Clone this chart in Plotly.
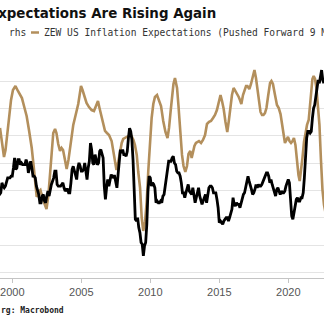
import plotly.graph_objects as go

W, H = 324, 329
MT, MB = 54, 51
PH = H - MT - MB

TAN = "#b38f5c"

# US CPI YoY (%), monthly from Jan 1999
cpi_start_year = 1999
cpi_yoy = [
    1.7, 1.6, 1.7, 2.3, 2.1, 2.0, 2.1, 2.3, 2.6, 2.6, 2.6, 2.7,   # 1999
    2.7, 3.2, 3.8, 3.1, 3.2, 3.7, 3.7, 3.4, 3.5, 3.4, 3.4, 3.4,   # 2000
    3.7, 3.5, 2.9, 3.3, 3.6, 3.2, 2.7, 2.7, 2.6, 2.1, 1.9, 1.6,   # 2001
    1.1, 1.1, 1.5, 1.6, 1.2, 1.1, 1.5, 1.8, 1.5, 2.0, 2.2, 2.4,   # 2002
    2.6, 3.0, 3.0, 2.2, 2.1, 2.1, 2.1, 2.2, 2.3, 2.0, 1.8, 1.9,   # 2003
    1.9, 1.7, 1.7, 2.3, 3.1, 3.3, 3.0, 2.7, 2.5, 3.2, 3.5, 3.3,   # 2004
    3.0, 3.0, 3.1, 3.5, 2.8, 2.5, 3.2, 3.6, 4.7, 4.3, 3.5, 3.4,   # 2005
    4.0, 3.6, 3.4, 3.5, 4.2, 4.3, 4.1, 3.8, 2.1, 1.3, 2.0, 2.5,   # 2006
    2.1, 2.4, 2.8, 2.6, 2.7, 2.7, 2.4, 2.0, 2.8, 3.5, 4.3, 4.1,   # 2007
    4.3, 4.0, 4.0, 3.9, 4.2, 5.0, 5.6, 5.4, 4.9, 3.7, 1.1, 0.1,   # 2008
    0.0, 0.2, -0.4, -0.7, -1.3, -1.4, -2.1, -1.5, -1.3, -0.2, 1.8, 2.7,  # 2009
    2.6, 2.1, 2.3, 2.2, 2.0, 1.1, 1.2, 1.1, 1.1, 1.2, 1.1, 1.5,   # 2010
    1.6, 2.1, 2.7, 3.2, 3.6, 3.6, 3.6, 3.8, 3.9, 3.5, 3.4, 3.0,   # 2011
    2.9, 2.9, 2.7, 2.3, 1.7, 1.7, 1.4, 1.7, 2.0, 2.2, 1.8, 1.7,   # 2012
    1.6, 2.0, 1.5, 1.1, 1.4, 1.8, 2.0, 1.5, 1.2, 1.0, 1.2, 1.5,   # 2013
    1.6, 1.1, 1.5, 2.0, 2.1, 2.1, 2.0, 1.7, 1.7, 1.7, 1.3, 0.8,   # 2014
    -0.1, 0.0, -0.1, -0.2, 0.0, 0.1, 0.2, 0.2, 0.0, 0.2, 0.5, 0.7,  # 2015
    1.4, 1.0, 0.9, 1.1, 1.0, 1.0, 0.8, 1.1, 1.5, 1.6, 1.7, 2.1,   # 2016
    2.5, 2.7, 2.4, 2.2, 1.9, 1.6, 1.7, 1.9, 2.2, 2.0, 2.2, 2.1,   # 2017
    2.1, 2.2, 2.4, 2.5, 2.8, 2.9, 2.9, 2.7, 2.3, 2.5, 2.2, 1.9,   # 2018
    1.6, 1.5, 1.9, 2.0, 1.8, 1.6, 1.8, 1.7, 1.7, 1.8, 2.1, 2.3,   # 2019
    2.5, 2.3, 1.5, 0.3, 0.1, 0.6, 1.0, 1.3, 1.4, 1.2, 1.2, 1.4,   # 2020
    1.4, 1.7, 2.6, 4.2, 5.0, 5.4, 5.4, 5.3, 5.4, 6.2, 6.8, 7.0,   # 2021
    7.5, 7.9, 8.5, 8.3, 8.6, 9.1, 8.5, 8.3,                       # 2022
]
cpi_years = [cpi_start_year + i / 12 for i in range(len(cpi_yoy))]

# ZEW US inflation expectations balance, shifted forward 9 months (decimal years)
zew_years = [
    1999.11, 1999.26, 1999.40, 1999.51, 1999.62, 1999.76, 1999.91, 2000.05, 2000.23, 2000.41,
    2000.56, 2000.70, 2000.85, 2001.04, 2001.21, 2001.41, 2001.54, 2001.65, 2001.77, 2001.90,
    2002.04, 2002.23, 2002.48, 2002.62, 2002.73, 2002.84, 2002.97, 2003.10, 2003.20, 2003.33,
    2003.46, 2003.57, 2003.68, 2003.82, 2003.94, 2004.07, 2004.18, 2004.29, 2004.42, 2004.54,
    2004.67, 2004.78, 2004.87, 2004.98, 2005.09, 2005.20, 2005.38, 2005.56, 2005.75, 2005.92,
    2006.03, 2006.21, 2006.32, 2006.48, 2006.61, 2006.72, 2006.86, 2007.01, 2007.20, 2007.33,
    2007.44, 2007.55, 2007.68, 2007.81, 2007.93, 2008.04, 2008.24, 2008.42, 2008.64, 2008.78,
    2008.89, 2009.02, 2009.13, 2009.26, 2009.38, 2009.49, 2009.62, 2009.74, 2009.86, 2009.98,
    2010.10, 2010.22, 2010.34, 2010.49, 2010.63, 2010.78, 2010.94, 2011.10, 2011.25, 2011.36,
    2011.47, 2011.57, 2011.68, 2011.79, 2011.94, 2012.04, 2012.18, 2012.30, 2012.41, 2012.54,
    2012.66, 2012.77, 2012.90, 2013.00, 2013.10, 2013.20, 2013.31, 2013.42, 2013.53, 2013.68,
    2013.82, 2013.97, 2014.11, 2014.26, 2014.40, 2014.55, 2014.69, 2014.83, 2014.94, 2015.09,
    2015.20, 2015.32, 2015.45, 2015.58, 2015.70, 2015.81, 2015.92, 2016.04, 2016.18, 2016.28,
    2016.41, 2016.50, 2016.60, 2016.72, 2016.83, 2016.94, 2017.04, 2017.18, 2017.30, 2017.41,
    2017.55, 2017.66, 2017.77, 2017.88, 2017.99, 2018.10, 2018.20, 2018.31, 2018.42, 2018.53,
    2018.68, 2018.78, 2018.89, 2019.04, 2019.18, 2019.31, 2019.44, 2019.55, 2019.67, 2019.76,
    2019.87, 2019.98, 2020.09, 2020.20, 2020.31, 2020.41, 2020.52, 2020.63, 2020.74, 2020.83,
    2020.92, 2021.03, 2021.14, 2021.25, 2021.36, 2021.48, 2021.57, 2021.67, 2021.75, 2021.84,
    2021.94, 2022.04, 2022.15, 2022.26, 2022.37, 2022.48, 2022.59, 2022.73,
]
zew_balance = [
    25.9, 14.9, 4.6, 9.7, 20.7, 35.4, 46.4, 53.7, 56.6, 53.0,
    50.8, 47.8, 42.0, 34.7, 24.4, 11.2, -1.2, -12.2, -24.7, -21.0,
    -19.6, -26.9, -33.5, -23.2, -8.6, 8.3, 22.2, 25.1, 22.2, 14.1,
    9.0, 11.2, 9.7, 2.4, -4.2, 2.4, 11.2, 20.7, 28.1, 33.2,
    38.3, 43.4, 49.3, 56.6, 53.7, 49.3, 44.2, 41.2, 39.0, 38.3,
    41.2, 45.6, 40.5, 33.9, 28.1, 23.7, 22.2, 20.7, 16.3, 8.3,
    -1.2, -4.9, 1.0, 9.0, 14.9, 17.8, 19.3, 20.0, 20.0, 17.1,
    13.4, 6.1, -6.4, -18.1, -40.1, -49.6, -43.0, -28.4, -4.9, 18.5,
    33.2, 43.4, 48.6, 50.0, 46.4, 42.0, 31.0, 22.9, 18.5, 25.9,
    37.6, 50.0, 58.1, 62.5, 55.2, 42.7, 22.9, 6.1, -2.0, -6.4,
    -2.0, 6.8, 9.0, 3.9, 8.3, 12.7, 14.9, 15.6, 16.3, 14.9,
    17.1, 20.7, 28.8, 30.3, 31.0, 33.2, 35.4, 39.0, 43.4, 50.0,
    45.6, 39.8, 30.3, 22.9, 31.7, 42.0, 50.0, 55.2, 53.0, 50.8,
    48.6, 46.4, 43.4, 50.0, 54.4, 56.6, 56.6, 54.4, 58.1, 63.2,
    68.4, 62.5, 55.2, 44.9, 37.6, 35.4, 35.4, 36.8, 40.5, 48.6,
    58.8, 60.3, 58.1, 50.0, 42.7, 40.5, 36.1, 28.8, 20.7, 14.9,
    17.1, 19.3, 16.3, 14.9, 16.3, 18.5, 13.4, 1.0, -8.6, -13.0,
    -6.4, 3.9, 15.6, 23.7, 28.1, 31.7, 42.7, 55.2, 61.8, 64.0,
    61.8, 55.2, 43.4, 28.1, 2.4, -19.6, -30.5, -37.9,
]

year_ticks = [2000, 2005, 2010, 2015, 2020]
x_range = [1999.11, 2022.59]
zew_range = [-84.1, 80.1]
cpi_range = [-3.44, 10.07]


def px_x(px):
    return px / W


def px_y(py):
    return (H - MB - py) / PH


fig = go.Figure()

fig.add_trace(go.Scatter(
    x=zew_years, y=zew_balance, mode="lines", yaxis="y",
    line=dict(color=TAN, width=2.6), showlegend=False, hoverinfo="skip",
))
fig.add_trace(go.Scatter(
    x=cpi_years, y=cpi_yoy, mode="lines", yaxis="y2",
    line=dict(color="#000000", width=2.8), showlegend=False, hoverinfo="skip",
))

fig.add_hline(y=0, line_dash="dash", line_color="#9c9c9c", line_width=1, layer="below")

annotations = [
    dict(text="<b>Expectations Are Rising Again</b>", xref="paper", yref="paper",
         x=px_x(218), y=px_y(14), xanchor="right", yanchor="middle", showarrow=False,
         font=dict(family="DejaVu Sans", size=13.4, color="#111111")),
    dict(text="rhs", xref="paper", yref="paper",
         x=px_x(6.5), y=px_y(32.5), xanchor="left", yanchor="middle", showarrow=False,
         font=dict(family="DejaVu Sans Mono", size=9.6, color="#333333")),
    dict(text="ZEW US Inflation Expectations (Pushed Forward 9 Months)",
         xref="paper", yref="paper",
         x=px_x(41.5), y=px_y(32.5), xanchor="left", yanchor="middle", showarrow=False,
         font=dict(family="DejaVu Sans Mono", size=9.6, color="#333333")),
    dict(text="<b>rg: Macrobond</b>", xref="paper", yref="paper",
         x=px_x(-1), y=px_y(310), xanchor="left", yanchor="middle", showarrow=False,
         font=dict(family="DejaVu Sans Mono", size=8, color="#222222")),
]

shapes = [
    dict(type="line", xref="paper", yref="paper",
         x0=px_x(31), x1=px_x(39), y0=px_y(32.5), y1=px_y(32.5),
         line=dict(color=TAN, width=2.5)),
]

fig.update_layout(
    width=W, height=H,
    margin=dict(l=0, r=0, t=MT, b=MB, pad=0),
    paper_bgcolor="white", plot_bgcolor="white",
    showlegend=False,
    annotations=annotations,
    shapes=shapes,
    xaxis=dict(
        range=x_range, tickvals=year_ticks, ticktext=[str(y) for y in year_ticks],
        showgrid=False, zeroline=False, showline=True, linecolor="#c4c4c4", linewidth=1,
        ticks="outside", ticklen=4, tickcolor="#c4c4c4",
        tickfont=dict(family="Liberation Sans", size=11, color="#555555"),
    ),
    yaxis=dict(
        range=zew_range, dtick=20, tick0=0, showgrid=True, gridcolor="#e4e4e4", gridwidth=1,
        zeroline=False, showticklabels=False, ticks="", showline=False,
    ),
    yaxis2=dict(
        range=cpi_range, overlaying="y", side="right", showgrid=False, zeroline=False,
        showticklabels=False, ticks="", showline=False,
    ),
)

fig.write_html("out.html")
